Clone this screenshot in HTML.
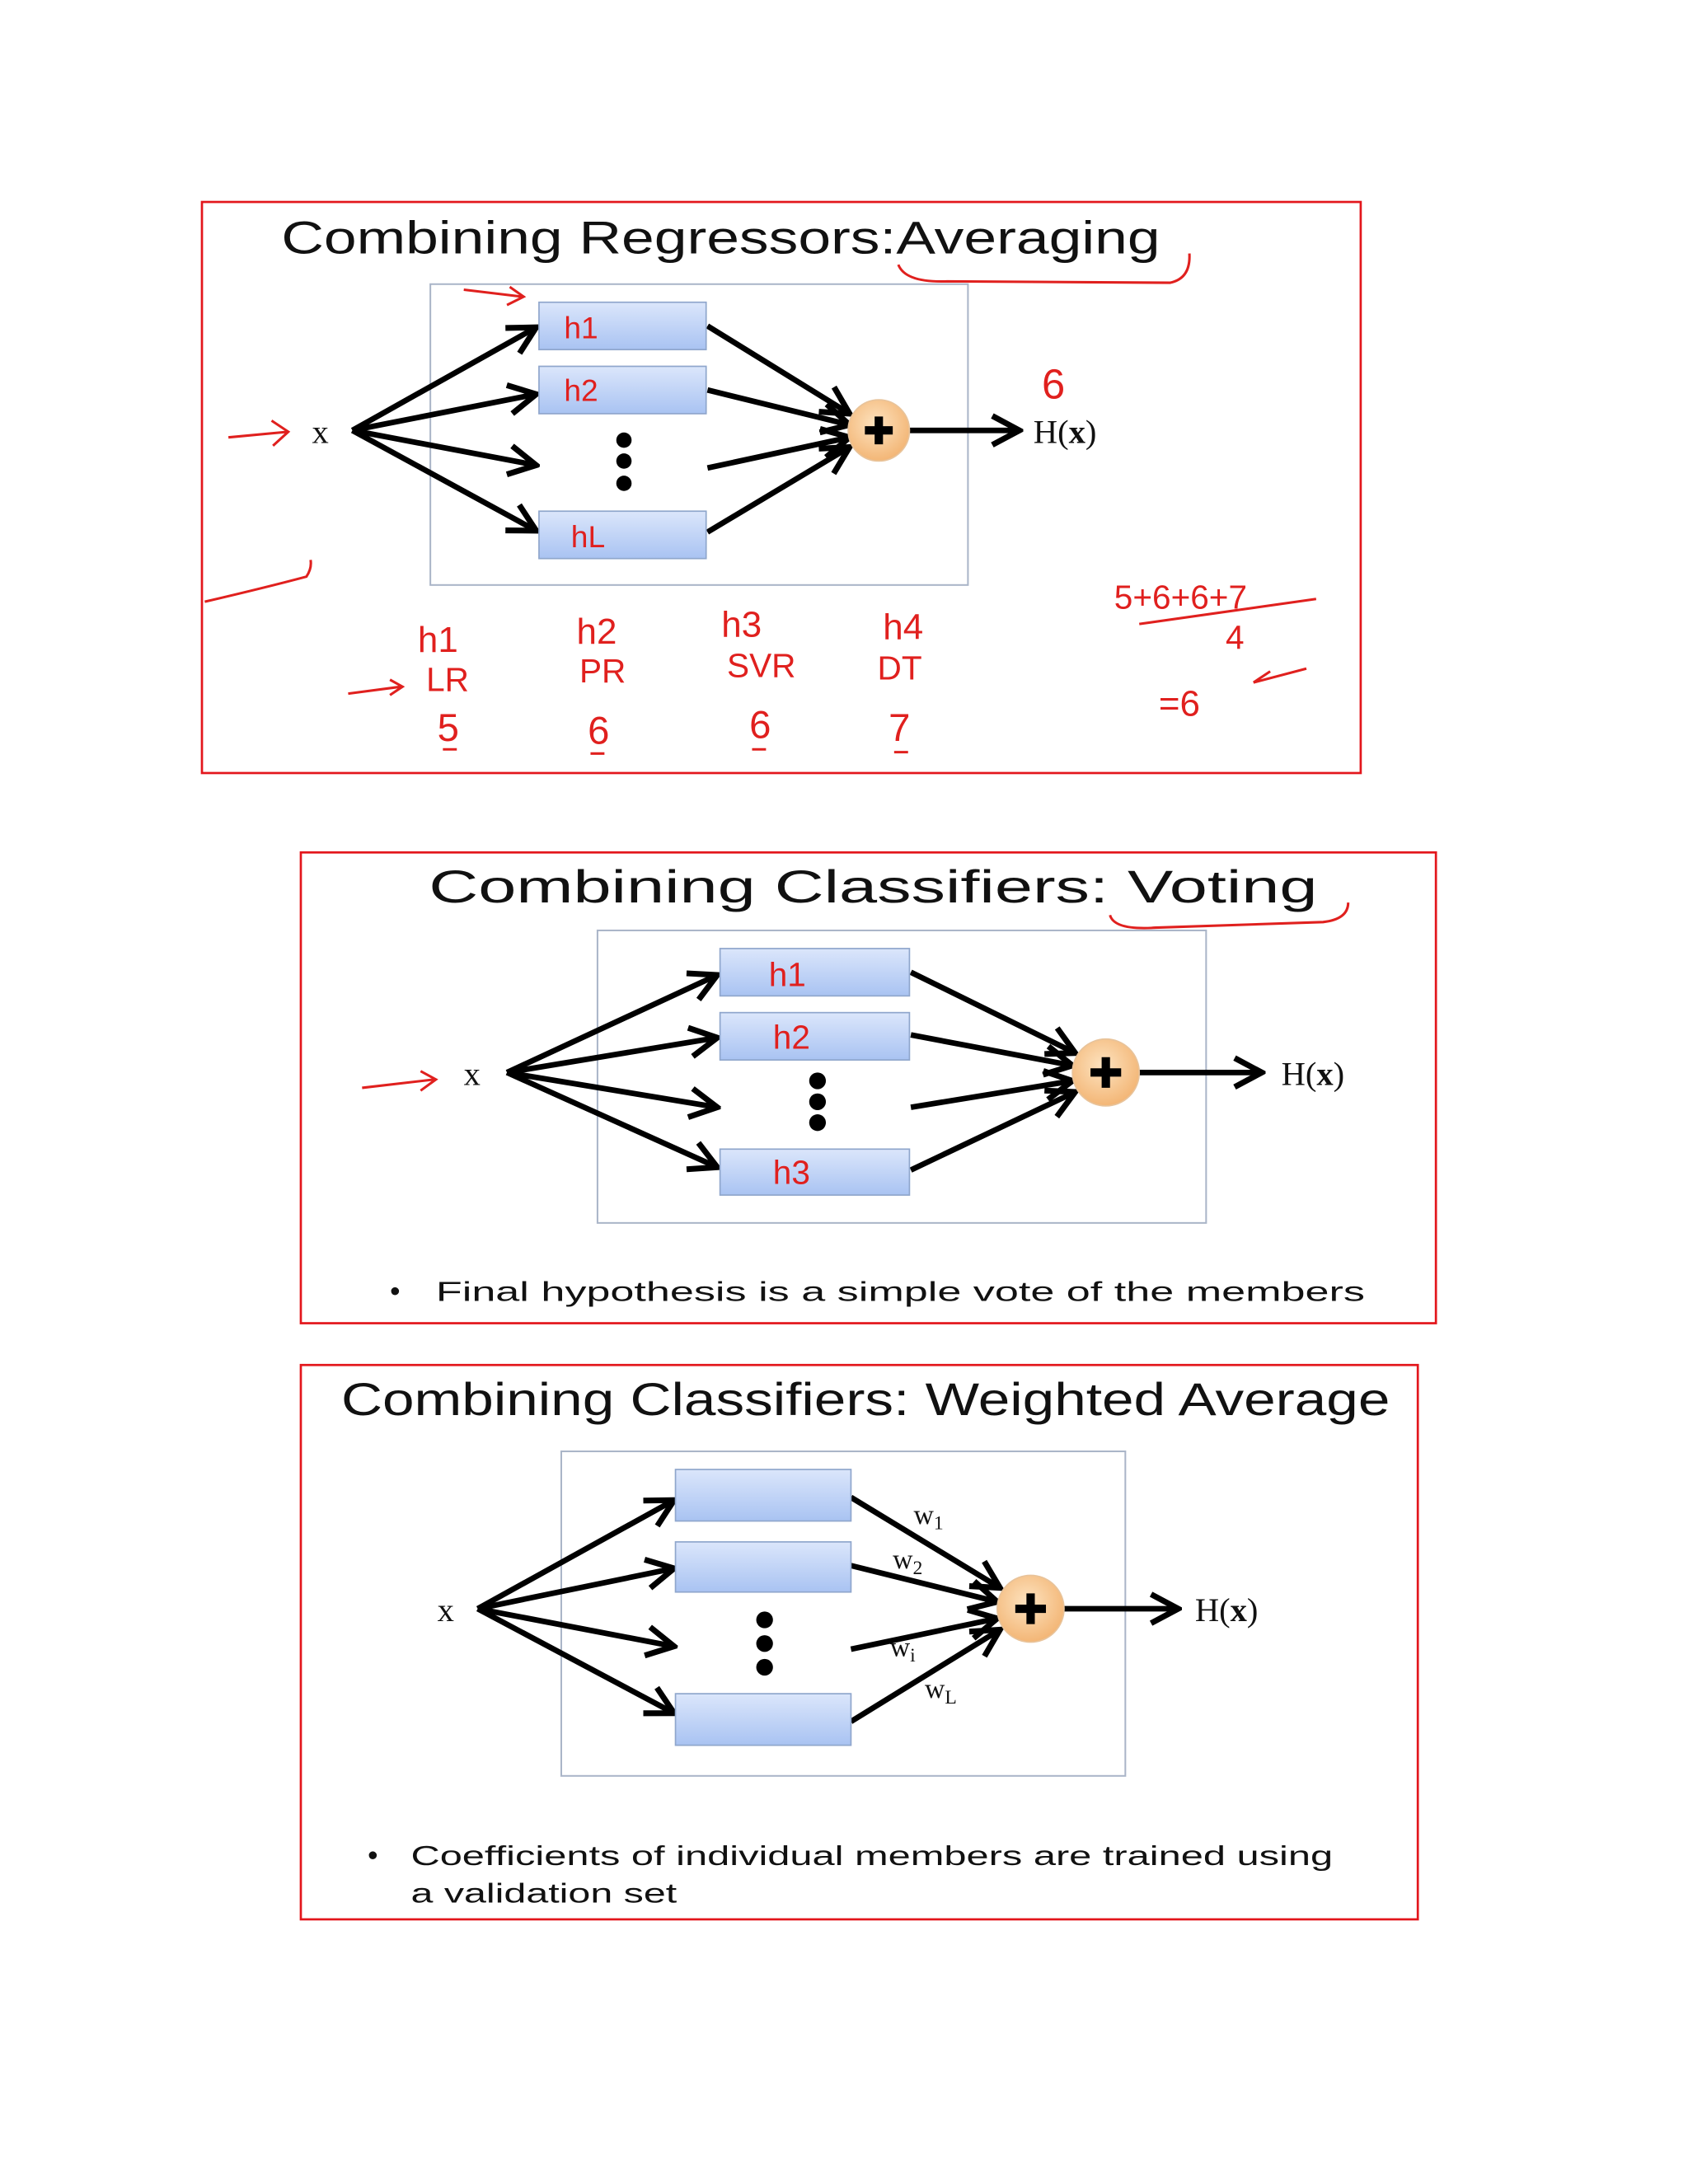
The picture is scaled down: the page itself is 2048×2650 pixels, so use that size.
<!DOCTYPE html>
<html><head><meta charset="utf-8"><style>
html,body{margin:0;padding:0;background:#fff;}
svg{display:block;}
.t{font-family:"Liberation Sans",sans-serif;fill:#111;}
.s{font-family:"Liberation Serif",serif;fill:#111;}
.r{font-family:"Liberation Sans",sans-serif;fill:#e0201e;}
</style></head><body>
<svg width="2048" height="2650" viewBox="0 0 1212 1568" preserveAspectRatio="none" xmlns="http://www.w3.org/2000/svg">
<defs>
<linearGradient id="bx" x1="0" y1="0" x2="0" y2="1"><stop offset="0" stop-color="#dbe6fb"/><stop offset="1" stop-color="#a9c3f2"/></linearGradient>
<radialGradient id="cg" cx="0.45" cy="0.4" r="0.6"><stop offset="0" stop-color="#fde3c0"/><stop offset="1" stop-color="#f3b676"/></radialGradient>
<marker id="a" viewBox="0 0 20 20" refX="18" refY="10" markerWidth="26" markerHeight="26" orient="auto" markerUnits="userSpaceOnUse"><path d="M3,2 L18,10 L3,18" fill="none" stroke="#000" stroke-width="3.2"/></marker>
</defs>
<rect width="1212" height="1568" fill="#fff"/>

<!-- Panel 1 -->
<rect x="145" y="145" width="832" height="410" fill="none" stroke="#e3161c" stroke-width="1.6"/>
<text class="t" x="202" y="182" font-size="33" textLength="631" lengthAdjust="spacingAndGlyphs">Combining Regressors:Averaging</text>
<rect x="309" y="204" width="386" height="216" fill="none" stroke="#aab5c8" stroke-width="1.2"/>
<g stroke="#000" stroke-width="4" fill="none" marker-end="url(#a)">
<line x1="253" y1="309" x2="385" y2="235"/>
<line x1="253" y1="309" x2="385" y2="283"/>
<line x1="253" y1="309" x2="385" y2="334"/>
<line x1="253" y1="309" x2="385" y2="381"/>
<line x1="508" y1="234" x2="610" y2="297"/>
<line x1="508" y1="280" x2="610" y2="305"/>
<line x1="508" y1="336" x2="610" y2="314"/>
<line x1="508" y1="382" x2="610" y2="321"/>
<line x1="652" y1="309" x2="732" y2="309"/>
</g>
<g fill="url(#bx)" stroke="#8fa6cc" stroke-width="1">
<rect x="387" y="217" width="120" height="34"/><rect x="387" y="263" width="120" height="34"/><rect x="387" y="367" width="120" height="34"/>
</g>
<g fill="#000"><circle cx="448" cy="316" r="5.5"/><circle cx="448" cy="331" r="5.5"/><circle cx="448" cy="347" r="5.5"/></g>
<circle cx="631" cy="309" r="22" fill="url(#cg)" stroke="#e8c39a"/>
<path d="M621,309 H641 M631,299 V319" stroke="#000" stroke-width="6"/>
<text class="s" x="224" y="318" font-size="24">x</text>
<text class="s" x="742" y="318" font-size="24">H(<tspan font-weight="bold">x</tspan>)</text>
<g class="r" font-size="22">
<text x="405" y="243">h1</text><text x="405" y="288">h2</text><text x="410" y="393">hL</text>
<text x="748" y="286" font-size="30">6</text>
<text x="300" y="468" font-size="26">h1</text><text x="414" y="462" font-size="26">h2</text><text x="518" y="457" font-size="26">h3</text><text x="634" y="459" font-size="26">h4</text>
<text x="306" y="496" font-size="24">LR</text><text x="416" y="490" font-size="24">PR</text><text x="522" y="486" font-size="24">SVR</text><text x="630" y="488" font-size="24">DT</text>
<text x="314" y="532" font-size="28">5</text><text x="422" y="534" font-size="28">6</text><text x="538" y="530" font-size="28">6</text><text x="638" y="532" font-size="28">7</text>
<text x="800" y="437" font-size="24">5+6+6+7</text><text x="880" y="466" font-size="24">4</text><text x="832" y="514" font-size="26">=6</text>
</g>
<g stroke="#e0201e" stroke-width="1.8" fill="none">
<path d="M645,190 Q650,203 680,202 L840,203 Q855,200 854,182"/>
<path d="M164,314 L207,310 M195,302 L207,310 L196,320"/>
<path d="M333,208 L375,213 M366,206 L376,213 L364,219"/>
<path d="M147,432 Q190,422 220,414 Q224,408 223,402"/>
<path d="M250,498 L288,493 M280,488 L289,493 L280,499"/>
<path d="M818,448 L945,430"/>
<path d="M900,490 L938,480 M900,490 L912,482"/>
<path d="M318,538 h10 M424,541 h10 M540,538 h10 M642,540 h10"/>
<path d="M260,781 L312,775 M302,769 L313,775 L302,783"/>
<path d="M797,657 Q800,668 830,666 L950,662 Q968,660 968,648"/>
</g>

<!-- Panel 2 -->
<rect x="216" y="612" width="815" height="338" fill="none" stroke="#e3161c" stroke-width="1.6"/>
<text class="t" x="308" y="648" font-size="33" textLength="638" lengthAdjust="spacingAndGlyphs">Combining Classifiers:  Voting</text>
<rect x="429" y="668" width="437" height="210" fill="none" stroke="#aab5c8" stroke-width="1.2"/>
<g stroke="#000" stroke-width="4" fill="none" marker-end="url(#a)">
<line x1="364" y1="770" x2="515" y2="700"/>
<line x1="364" y1="770" x2="515" y2="745"/>
<line x1="364" y1="770" x2="515" y2="795"/>
<line x1="364" y1="770" x2="515" y2="838"/>
<line x1="654" y1="698" x2="772" y2="756"/>
<line x1="654" y1="743" x2="770" y2="765"/>
<line x1="654" y1="795" x2="770" y2="776"/>
<line x1="654" y1="840" x2="772" y2="784"/>
<line x1="818" y1="770" x2="906" y2="770"/>
</g>
<g fill="url(#bx)" stroke="#8fa6cc" stroke-width="1">
<rect x="517" y="681" width="136" height="34"/><rect x="517" y="727" width="136" height="34"/><rect x="517" y="825" width="136" height="33"/>
</g>
<g fill="#000"><circle cx="587" cy="776" r="6"/><circle cx="587" cy="791" r="6"/><circle cx="587" cy="806" r="6"/></g>
<circle cx="794" cy="770" r="24" fill="url(#cg)" stroke="#e8c39a"/>
<path d="M783,770 H805 M794,759 V781" stroke="#000" stroke-width="6"/>
<text class="s" x="333" y="779" font-size="24">x</text>
<text class="s" x="920" y="779" font-size="24">H(<tspan font-weight="bold">x</tspan>)</text>
<g class="r" font-size="24"><text x="552" y="708">h1</text><text x="555" y="753">h2</text><text x="555" y="850">h3</text></g>
<text class="t" x="280" y="934" font-size="21">•</text>
<text class="t" x="313" y="934" font-size="20" textLength="667" lengthAdjust="spacingAndGlyphs">Final hypothesis is a simple vote of the members</text>

<!-- Panel 3 -->
<rect x="216" y="980" width="802" height="398" fill="none" stroke="#e3161c" stroke-width="1.6"/>
<text class="t" x="245" y="1016" font-size="33" textLength="753" lengthAdjust="spacingAndGlyphs">Combining Classifiers:  Weighted Average</text>
<rect x="403" y="1042" width="405" height="233" fill="none" stroke="#aab5c8" stroke-width="1.2"/>
<g stroke="#000" stroke-width="4" fill="none" marker-end="url(#a)">
<line x1="343" y1="1155" x2="484" y2="1077"/>
<line x1="343" y1="1155" x2="484" y2="1126"/>
<line x1="343" y1="1155" x2="484" y2="1182"/>
<line x1="343" y1="1155" x2="484" y2="1230"/>
<line x1="611" y1="1075" x2="718" y2="1140"/>
<line x1="611" y1="1124" x2="716" y2="1150"/>
<line x1="611" y1="1184" x2="716" y2="1162"/>
<line x1="611" y1="1236" x2="718" y2="1170"/>
<line x1="764" y1="1155" x2="846" y2="1155"/>
</g>
<g fill="url(#bx)" stroke="#8fa6cc" stroke-width="1">
<rect x="485" y="1055" width="126" height="37"/><rect x="485" y="1107" width="126" height="36"/><rect x="485" y="1216" width="126" height="37"/>
</g>
<g fill="#000"><circle cx="549" cy="1163" r="6"/><circle cx="549" cy="1180" r="6"/><circle cx="549" cy="1197" r="6"/></g>
<circle cx="740" cy="1155" r="24" fill="url(#cg)" stroke="#e8c39a"/>
<path d="M729,1155 H751 M740,1144 V1166" stroke="#000" stroke-width="6"/>
<text class="s" x="314" y="1164" font-size="24">x</text>
<text class="s" x="858" y="1164" font-size="24">H(<tspan font-weight="bold">x</tspan>)</text>
<g class="s" font-size="20">
<text x="656" y="1094">w<tspan font-size="14" dy="4">1</tspan></text>
<text x="641" y="1126">w<tspan font-size="14" dy="4">2</tspan></text>
<text x="639" y="1189">w<tspan font-size="14" dy="4">i</tspan></text>
<text x="664" y="1219">w<tspan font-size="14" dy="4">L</tspan></text>
</g>
<text class="t" x="264" y="1339" font-size="21">•</text>
<text class="t" x="295" y="1339" font-size="20" textLength="662" lengthAdjust="spacingAndGlyphs">Coefficients of individual members are trained using</text>
<text class="t" x="295" y="1366" font-size="20" textLength="191" lengthAdjust="spacingAndGlyphs">a validation set</text>
</svg>
</body></html>
